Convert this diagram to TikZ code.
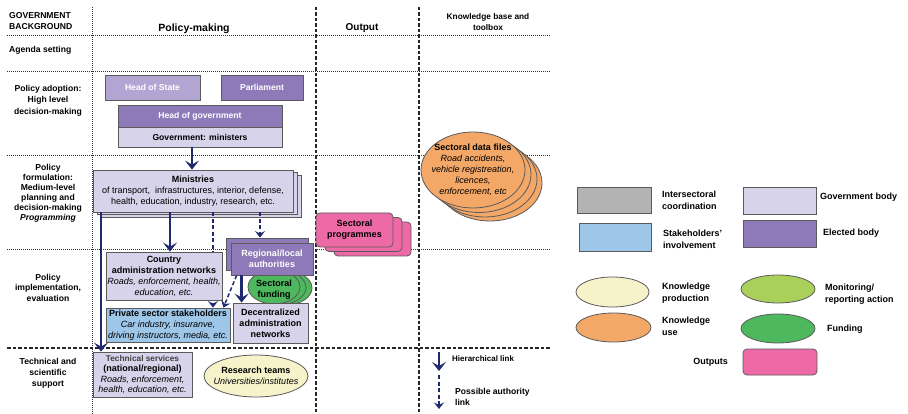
\documentclass[tikz,border=0pt]{standalone}
\usepackage{fontspec}
\setmainfont{Liberation Sans}
\usetikzlibrary{arrows.meta,shapes.geometric,calc}
\definecolor{navy}{HTML}{1F2A6E}
\definecolor{govbody}{HTML}{D6D3EA}
\definecolor{elected}{HTML}{8E7AB8}
\definecolor{hos}{HTML}{B3A5D3}
\definecolor{stake}{HTML}{9DC6E8}
\definecolor{inter}{HTML}{B3B3B3}
\definecolor{kprod}{HTML}{F6F3CB}
\definecolor{kuse}{HTML}{F4A868}
\definecolor{monit}{HTML}{A9D05A}
\definecolor{fund}{HTML}{4DB85E}
\definecolor{outp}{HTML}{EE6AA7}
\definecolor{edge}{HTML}{5A5A5A}
\tikzset{
  base/.style={inner sep=0pt, align=center, font=\fontsize{9}{11}\selectfont},
  rbox/.style={base, draw=edge, line width=0.8pt, rectangle},
  ell/.style={draw=edge, line width=0.8pt, ellipse, inner sep=0pt},
  txt/.style={inner sep=0pt, align=center, font=\fontsize{9}{11}\selectfont},
  hdr/.style={inner sep=0pt, align=center, font=\bfseries\fontsize{8.6}{11}\selectfont},
  gridline/.style={line width=0.9pt, dash pattern=on 1pt off 1pt, black!80},
  gridthick/.style={line width=1.3pt, dash pattern=on 3.5pt off 2pt, black!85},
  harrow/.style={draw=navy, line width=2.8pt, -{Stealth[length=9pt,width=14pt,inset=4pt]}},
  darrow/.style={draw=navy, line width=1.5pt, dash pattern=on 4pt off 2.5pt, -{Stealth[length=6.5pt,width=10pt,inset=2.5pt]}},
  legtxt/.style={inner sep=0pt, align=left, font=\bfseries\fontsize{9}{12}\selectfont},
}
\begin{document}
\begin{tikzpicture}[x=1pt,y=-1pt]
\useasboundingbox (0,0) rectangle (908,414);
\fill[white] (0,0) rectangle (908,414);

% grid
\draw[gridline] (7,35) -- (551,35);
\draw[gridline] (7,71) -- (551,71);
\draw[gridline] (7,155) -- (551,155);
\draw[gridline] (7,249) -- (551,249);
\draw[gridthick] (7,348) -- (551,348);
\draw[gridline] (92,7) -- (92,414);
\draw[gridthick] (316,7) -- (316,414);
\draw[gridthick] (419,7) -- (419,414);

% headers
\node[hdr, anchor=west, align=left] (hgov) at (9,21) {GOVERNMENT\\BACKGROUND};
\node[hdr, font=\bfseries\fontsize{10.5}{12}\selectfont] (hpol) at (194,28.5) {Policy-making};
\node[hdr, font=\bfseries\fontsize{10}{12}\selectfont] (hout) at (362,28.5) {Output};
\node[hdr, font=\bfseries\fontsize{8.3}{11}\selectfont] (hkb) at (488,22.5) {Knowledge base and\\toolbox};

% row labels
\node[hdr, anchor=west] (ragenda) at (9,50) {Agenda setting};
\node[hdr, font=\bfseries\fontsize{8.6}{11.5}\selectfont] (radopt) at (48,100.5) {Policy adoption:\\High level\\decision-making};
\node[hdr, font=\bfseries\fontsize{8.6}{10}\selectfont] (rform) at (48,193) {Policy\\formulation:\\Medium-level\\planning and\\decision-making\\\textit{Programming}};
\node[hdr, font=\bfseries\fontsize{8.6}{10.5}\selectfont] (rimpl) at (48,287.5) {Policy\\implementation,\\evaluation};
\node[hdr, font=\bfseries\fontsize{8.6}{11}\selectfont] (rtech) at (48,373) {Technical and\\scientific\\support};

% sectoral data files (knowledge use)
\node[ell, fill=kuse, minimum width=104pt, minimum height=76pt] (sdf3) at (490,183) {};
\node[ell, fill=kuse, minimum width=104pt, minimum height=76pt] (sdf2) at (485,179) {};
\node[ell, fill=kuse, minimum width=104pt, minimum height=76pt] (sdf1) at (479,174.5) {};
\node[ell, fill=kuse, minimum width=104pt, minimum height=76pt] (sdf) at (473,170) {};
\node[txt] (sdftxt) at (sdf) {{\bfseries Sectoral data files}\\\textit{Road accidents,}\\\textit{vehicle registreation,}\\\textit{licences,}\\\textit{enforcement, etc}};

% sectoral programmes (outputs)
\node[rbox, fill=outp, rounded corners=4pt, minimum width=77pt, minimum height=34pt] (sp2) at (372.5,239) {};
\node[rbox, fill=outp, rounded corners=4pt, minimum width=77pt, minimum height=34pt] (sp1) at (363.5,234.5) {};
\node[rbox, fill=outp, rounded corners=4pt, minimum width=77pt, minimum height=34pt, font=\bfseries\fontsize{9}{11}\selectfont] (sp) at (354.5,230) {Sectoral\\programmes};

% policy adoption
\node[rbox, fill=hos, text=white, font=\bfseries\fontsize{8.6}{11}\selectfont, minimum width=95pt, minimum height=25pt] (hos) at (152.5,87.5) {Head of State};
\node[rbox, fill=elected, text=white, font=\bfseries\fontsize{8.6}{11}\selectfont, minimum width=82pt, minimum height=25pt] (parl) at (262,87.5) {Parliament};
\node[rbox, fill=elected, text=white, font=\bfseries\fontsize{8.6}{11}\selectfont, minimum width=164pt, minimum height=22pt] (hog) at (200,116) {Head of government};
\node[rbox, fill=govbody, font=\bfseries\fontsize{8.6}{11}\selectfont, minimum width=164pt, minimum height=20pt] (govmin) at (200,137) {Government: ministers};

% ministries
\node[rbox, fill=govbody, minimum width=200pt, minimum height=42pt] (min2) at (201,196) {};
\node[rbox, fill=govbody, minimum width=200pt, minimum height=42pt] (min1) at (197,193.5) {};
\node[rbox, fill=govbody, minimum width=200pt, minimum height=42pt] (min) at (193,191) {{\bfseries Ministries}\\of transport,~ infrastructures, interior, defense,\\health, education, industry, research, etc.};

\coordinate (g1) at ($(govmin.south)+(-8,0)$);
\draw[harrow] (g1) -- (g1 |- min.north);

% implementation level nodes
\node[rbox, fill=govbody, minimum width=99pt, minimum height=45pt, font=\fontsize{9}{10.5}\selectfont] (tech) at (142.5,374.5) {{\bfseries\fontsize{8.3}{10.5}\selectfont\color{black!75}Technical services}\\{\bfseries (national/regional)}\\\textit{Roads, enforcement,}\\\textit{health, education, etc.}};
\node[rbox, fill=stake, minimum width=124pt, minimum height=34pt] (priv) at (168,325) {{\bfseries Private sector stakeholders}\\\textit{Car industry, insuranve,}\\\textit{driving instructors, media, etc.}};

\coordinate (a1) at ($(min.south)+(-92,0)$);
\coordinate (a2) at ($(min.south)+(-23,0)$);
\coordinate (a3) at ($(min.south)+(20,0)$);
\coordinate (a4) at ($(min.south)+(67,0)$);
\draw[harrow] (a1) -- (a1 |- tech.north);
\draw[darrow] (a3) -- (a3 |- priv.north);

\node[rbox, fill=govbody, minimum width=116pt, minimum height=48pt] (country) at (164,276) {{\bfseries Country}\\{\bfseries administration networks}\\\textit{Roads, enforcement, health,}\\\textit{education, etc.}};
\draw[harrow] (a2) -- (a2 |- country.north);

% sectoral funding
\node[ell, fill=fund, minimum width=52pt, minimum height=34pt] (fund2) at (286,288) {};
\node[ell, fill=fund, minimum width=52pt, minimum height=34pt] (fund1) at (280,287.5) {};
\node[ell, fill=fund, minimum width=52pt, minimum height=34pt] (fund) at (274,287) {};
\node[txt, font=\bfseries\fontsize{9}{11}\selectfont] (fundtxt) at (274,290) {Sectoral\\funding};

% regional / local authorities
\node[rbox, fill=elected, minimum width=82pt, minimum height=32pt] (regback) at (267.5,254) {};
\node[rbox, fill=elected, text=white, font=\bfseries\fontsize{9}{11}\selectfont, minimum width=82pt, minimum height=32pt] (reg) at (272,259) {Regional/local\\authorities};
\draw[darrow] (a4) -- (a4 |- regback.north);

\node[rbox, fill=govbody, font=\bfseries\fontsize{9}{11}\selectfont, minimum width=75pt, minimum height=40pt] (dec) at (270.5,323) {Decentralized\\administration\\networks};

\coordinate (r1) at ($(reg.south west)+(11,0)$);
\draw[harrow] (r1) -- (r1 |- dec.north);
\coordinate (r2) at ($(reg.south west)+(6,0)$);
\coordinate (p2) at ($(priv.north east)+(-7,0)$);
\draw[darrow] (r2) -- (p2);

% research teams
\node[ell, fill=kprod, minimum width=104pt, minimum height=42pt] (res) at (256,376) {};
\node[txt] (restxt) at (res) {{\bfseries Research teams}\\\textit{Universities/institutes}};

% link legend
\coordinate (la1) at (439,352);
\coordinate (la2) at (439,371);
\draw[harrow] (la1) -- (la2);
\coordinate (lb1) at (439,375);
\coordinate (lb2) at (439,409);
\draw[darrow] (lb1) -- (lb2);
\node[legtxt, anchor=west, font=\bfseries\fontsize{8}{10}\selectfont] (lh) at (452,359) {Hierarchical link};
\node[legtxt, anchor=west, font=\bfseries\fontsize{8.6}{11}\selectfont] (lp) at (455,397) {Possible authority\\link};

% colour legend
\node[rbox, fill=inter, minimum width=74pt, minimum height=26pt] (kinter) at (614,200) {};
\node[legtxt, anchor=west] (tinter) at (662,200) {Intersectoral\\coordination};
\node[rbox, fill=stake, minimum width=72pt, minimum height=28pt] (kstake) at (615,237) {};
\node[legtxt, anchor=west] (tstake) at (663,239) {Stakeholders'\\involvement};
\node[rbox, fill=govbody, minimum width=73pt, minimum height=27pt] (kgov) at (779.5,200.5) {};
\node[legtxt, anchor=west] (tgov) at (820,197) {Government body};
\node[rbox, fill=elected, minimum width=73pt, minimum height=27pt] (kel) at (779.5,233.5) {};
\node[legtxt, anchor=west] (tel) at (823,233) {Elected body};
\node[ell, fill=kprod, minimum width=73pt, minimum height=30pt] (kkp) at (612.5,292) {};
\node[legtxt, anchor=west] (tkp) at (662,293) {Knowledge\\production};
\node[ell, fill=kuse, minimum width=75pt, minimum height=29pt] (kku) at (613.5,327.5) {};
\node[legtxt, anchor=west] (tku) at (662,326) {Knowledge\\use};
\node[ell, fill=monit, minimum width=74pt, minimum height=28pt] (kmon) at (778,289) {};
\node[legtxt, anchor=west] (tmon) at (825,294) {Monitoring/\\reporting action};
\node[ell, fill=fund, minimum width=74pt, minimum height=29pt] (kfund) at (778,328.5) {};
\node[legtxt, anchor=west] (tfund) at (827,329) {Funding};
\node[rbox, fill=outp, rounded corners=4pt, minimum width=74pt, minimum height=26pt] (kout) at (780,362) {};
\node[legtxt, anchor=east] (tout) at (728,362) {Outputs};
\end{tikzpicture}
\end{document}
